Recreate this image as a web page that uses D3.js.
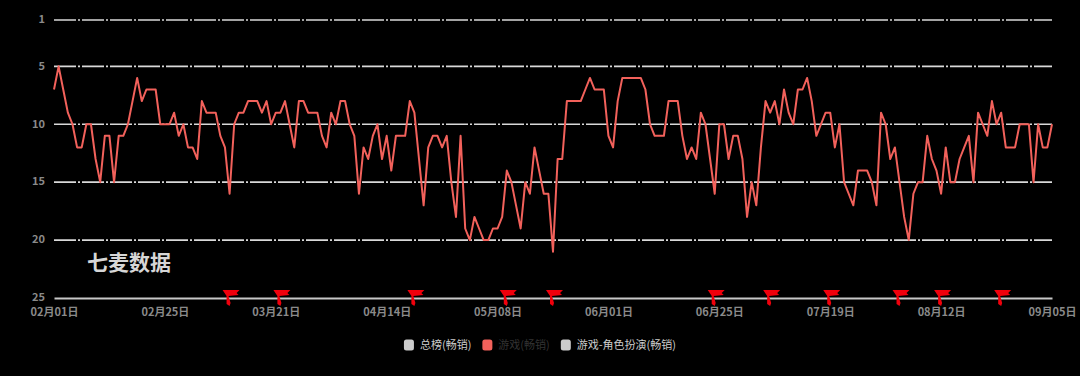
<!DOCTYPE html>
<html><head><meta charset="utf-8">
<script src="https://cdn.jsdelivr.net/npm/d3@7"></script>
<style>html,body{margin:0;padding:0;background:#000;} svg{display:block;}</style>
</head><body><svg id="c" width="1080" height="376"></svg>
<script>
// ---- data ----
const startDate = new Date(2019, 1, 1);
const dayCount = 217;
const categories = d3.timeDay.range(startDate, d3.timeDay.offset(startDate, dayCount)).map(d3.timeFormat("%m月%d日"));
const rankValues = [
  7,5,7,9,10,12,12,10,10,13,
  15,11,11,15,11,11,10,8,6,8,
  7,7,7,10,10,10,9,11,10,12,
  12,13,8,9,9,9,11,12,16,10,
  9,9,8,8,8,9,8,10,9,9,
  8,10,12,8,8,9,9,9,11,12,
  9,10,8,8,10,11,16,12,13,11,
  10,13,11,14,11,11,11,8,9,13,
  17,12,11,11,12,11,15,18,11,19,
  20,18,19,20,20,19,19,18,14,15,
  17,19,15,16,12,14,16,16,21,13,
  13,8,8,8,8,7,6,7,7,7,
  11,12,8,6,6,6,6,6,7,10,
  11,11,11,8,8,8,11,13,12,13,
  9,10,13,16,10,10,13,11,11,13,
  18,15,17,12,8,9,8,10,7,9,
  10,7,7,6,8,11,10,9,9,12,
  10,15,16,17,14,14,14,15,17,9,
  10,13,12,15,18,20,16,15,15,11,
  13,14,16,12,15,15,13,12,11,15,
  9,10,11,8,10,9,12,12,12,10,
  10,10,15,10,12,12,10
];
const yTicks = [1, 5, 10, 15, 20, 25];
const xTickLabels = ["02月01日","02月25日","03月21日","04月14日","05月08日","06月01日","06月25日","07月19日","08月12日","09月05日"];
const flagDates = ["03月11日","03月22日","04月20日","05月10日","05月20日","06月24日","07月06日","07月19日","08月03日","08月12日","08月25日"];
const legendItems = ["总榜(畅销)","游戏(畅销)","游戏-角色扮演(畅销)"];
const legendActive = [false, true, false];
const watermarkText = "七麦数据";

// ---- layout ----
const W = 1080, H = 376;
const mLeft = 54, mRight = 1052, mTop = 20, mBottom = 298;
const lineColor = "#f2615b";
const font = "'Noto Sans CJK SC', 'Noto Sans', sans-serif";

const svg = d3.select("#c");
svg.append("rect").attr("width", W).attr("height", H).attr("fill", "#000");

const x = d3.scalePoint().domain(categories).range([mLeft, mRight]);
const y = d3.scaleLinear().domain([1, 25]).range([mTop, mBottom]);

// grid lines
svg.append("g").selectAll("line").data(yTicks.filter(t => t !== 25)).join("line")
  .attr("x1", mLeft).attr("x2", mRight)
  .attr("y1", d => y(d)).attr("y2", d => y(d))
  .attr("stroke", "#d9d9d9").attr("stroke-width", 1.6)
  .attr("stroke-dasharray", "22,2,2,2");

// y axis
const gy = svg.append("g").attr("transform", `translate(${mLeft},0)`)
  .call(d3.axisLeft(y).tickValues(yTicks).tickSize(0).tickPadding(9));
gy.select(".domain").remove();
gy.selectAll("text").attr("fill", "#8a8a8a").attr("font-size", 11).attr("font-weight", "bold")
  .attr("font-family", font).attr("dy", "0.25em");

// x axis
const gx = svg.append("g").attr("transform", `translate(0,${mBottom})`)
  .call(d3.axisBottom(x).tickValues(xTickLabels).tickSize(0).tickPadding(10));
gx.select(".domain").attr("stroke", "#c8c8c8").attr("stroke-width", 2);
gx.selectAll("text").attr("fill", "#8a8a8a").attr("font-size", 11).attr("font-weight", "bold").attr("font-family", font);

// watermark
svg.append("text").attr("x", 87).attr("y", 270).text(watermarkText)
  .attr("fill", "#d6d6d6").attr("font-size", 21).attr("font-weight", "bold").attr("font-family", font);

// series line
const line = d3.line().x((d, i) => x(categories[i])).y(d => y(d));
svg.append("path").datum(rankValues).attr("d", line)
  .attr("fill", "none").attr("stroke", lineColor).attr("stroke-width", 2)
  .attr("stroke-linejoin", "round");

// flags
const flagG = svg.append("g");
flagDates.forEach(dt => {
  const bx = x(dt), by = mBottom + 8;
  flagG.append("path")
    .attr("d", `M${bx-7},${by-16} L${bx+10},${by-16} L${bx+7},${by-13} L${bx+9},${by-11} L${bx-1},${by-10} L${bx+1},${by-3} L${bx},${by} L${bx-3},${by-2} L${bx-3},${by-10} Z`)
    .attr("fill", "#f0000c");
});

// legend
const lg = svg.append("g");
let cx = 0;
legendItems.forEach((name, i) => {
  const g = lg.append("g").attr("transform", `translate(${cx},0)`);
  g.append("rect").attr("x", 0).attr("y", -5.5).attr("width", 10).attr("height", 11).attr("rx", 2.5)
    .attr("fill", legendActive[i] ? lineColor : "#cccccc");
  const t = g.append("text").attr("x", 16).attr("y", 0).attr("dy", "0.35em").text(name)
    .attr("fill", legendActive[i] ? "#333" : "#cccccc").attr("font-size", 11).attr("font-family", font);
  const w = 16 + t.node().getComputedTextLength();
  cx += w + 11;
});
const totalW = cx - 11;
lg.attr("transform", `translate(${540 - totalW / 2},345)`);
</script></body></html>
